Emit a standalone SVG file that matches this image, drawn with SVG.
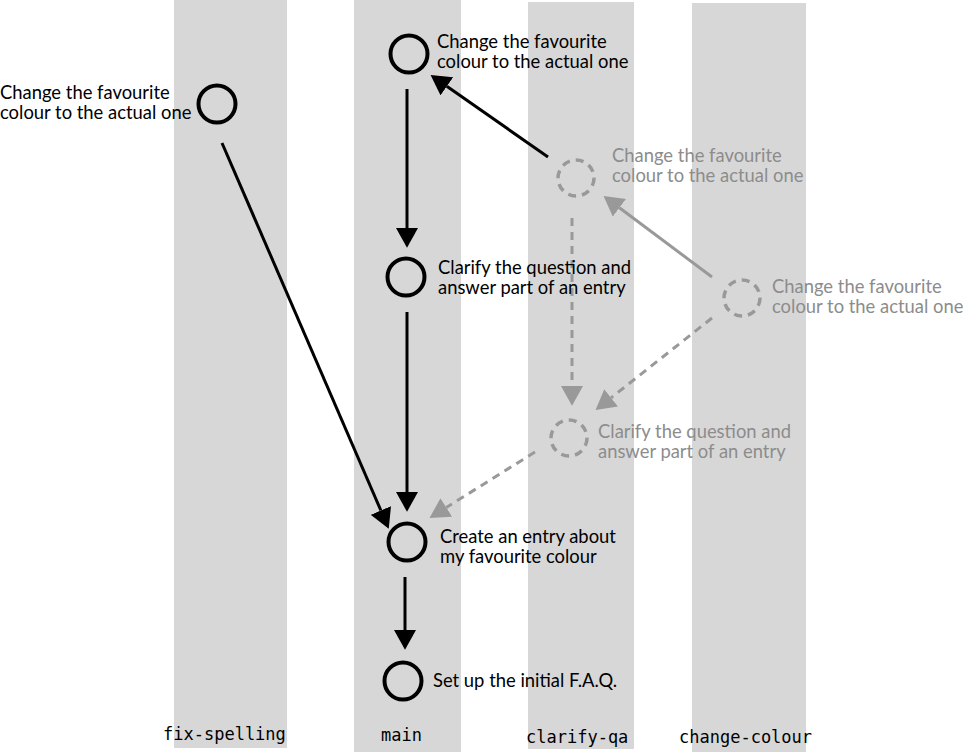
<svg xmlns="http://www.w3.org/2000/svg" width="963" height="752" viewBox="0 0 963 752">
<defs>
<style>
.band{fill:#d7d7d7}
.lbl{font-family:Lato,"Open Sans","Liberation Sans",sans-serif;font-size:18.4px;fill:#000}
.glbl{font-family:Lato,"Open Sans","Liberation Sans",sans-serif;font-size:18.4px;fill:#8c8c8c}
.br{font-family:"DejaVu Sans Mono","Liberation Mono",monospace;font-size:17px;fill:#000}
.c{fill:none;stroke:#000;stroke-width:4}
.gc{fill:none;stroke:#999;stroke-width:3.5;stroke-dasharray:8 6}
.e{fill:none;stroke:#000;stroke-width:3}
.ge{fill:none;stroke:#999;stroke-width:3}
.gd{fill:none;stroke:#999;stroke-width:3;stroke-dasharray:8 6}
</style>
<marker id="ab" markerUnits="userSpaceOnUse" markerWidth="20" markerHeight="22" refX="0" refY="10" orient="auto" viewBox="0 0 18 20">
<path d="M0,0 L18,10 L0,20 z" fill="#000"/>
</marker>
<marker id="ag" markerUnits="userSpaceOnUse" markerWidth="20" markerHeight="22" refX="0" refY="10" orient="auto" viewBox="0 0 18 20">
<path d="M0,0 L18,10 L0,20 z" fill="#999"/>
</marker>
</defs>
<g id="lanes">
<rect class="band" x="174" y="0" width="113" height="748"/>
<rect class="band" x="354" y="0" width="107" height="752"/>
<rect class="band" x="528" y="2" width="106" height="747"/>
<rect class="band" x="692" y="3" width="114" height="749"/>
<text class="br" x="163" y="740">fix-spelling</text>
<text class="br" x="381" y="741">main</text>
<text class="br" x="526" y="743">clarify-qa</text>
<text class="br" x="679" y="743">change-colour</text>
</g>
<g id="connectors">
<line class="e" x1="222" y1="143" x2="380.9" y2="510.5" marker-end="url(#ab)"/>
<line class="e" x1="407" y1="89" x2="407" y2="228" marker-end="url(#ab)"/>
<line class="e" x1="407" y1="312" x2="407" y2="492" marker-end="url(#ab)"/>
<line class="e" x1="405" y1="577" x2="405" y2="630" marker-end="url(#ab)"/>
<line class="e" x1="548" y1="157" x2="446.8" y2="86.3" marker-end="url(#ab)"/>
<line class="ge" x1="712" y1="277" x2="619.4" y2="207.8" marker-end="url(#ag)"/>
<line class="gd" x1="572" y1="218" x2="572" y2="386" marker-end="url(#ag)"/>
<line class="gd" x1="712" y1="318" x2="611.1" y2="397.8" marker-end="url(#ag)"/>
<line class="gd" x1="535" y1="452" x2="446.3" y2="507.5" marker-end="url(#ag)"/>
</g>
<g id="n-fix">
<circle class="c" cx="217" cy="104" r="18.5"/>
<text class="lbl" x="0" y="99">Change the favourite</text>
<text class="lbl" x="0" y="119">colour to the actual one</text>
</g>
<g id="n-main-change">
<circle class="c" cx="409" cy="54" r="18.5"/>
<text class="lbl" x="437" y="48">Change the favourite</text>
<text class="lbl" x="437" y="68">colour to the actual one</text>
</g>
<g id="n-main-clarify">
<circle class="c" cx="406" cy="277" r="18.5"/>
<text class="lbl" x="438" y="274">Clarify the question and</text>
<text class="lbl" x="438" y="294">answer part of an entry</text>
</g>
<g id="n-main-create">
<circle class="c" cx="407" cy="542" r="18.5"/>
<text class="lbl" x="440" y="543">Create an entry about</text>
<text class="lbl" x="440" y="563">my favourite colour</text>
</g>
<g id="n-main-setup">
<circle class="c" cx="403" cy="681" r="18.5"/>
<text class="lbl" x="433" y="687">Set up the initial F.A.Q.</text>
</g>
<g id="n-qa-change">
<circle class="gc" cx="576" cy="178" r="18"/>
<text class="glbl" x="612" y="162">Change the favourite</text>
<text class="glbl" x="612" y="182">colour to the actual one</text>
</g>
<g id="n-colour-change">
<circle class="gc" cx="742" cy="298" r="18"/>
<text class="glbl" x="772" y="293">Change the favourite</text>
<text class="glbl" x="772" y="313">colour to the actual one</text>
</g>
<g id="n-qa-clarify">
<circle class="gc" cx="569" cy="438" r="18"/>
<text class="glbl" x="598" y="438">Clarify the question and</text>
<text class="glbl" x="598" y="458">answer part of an entry</text>
</g>
</svg>
